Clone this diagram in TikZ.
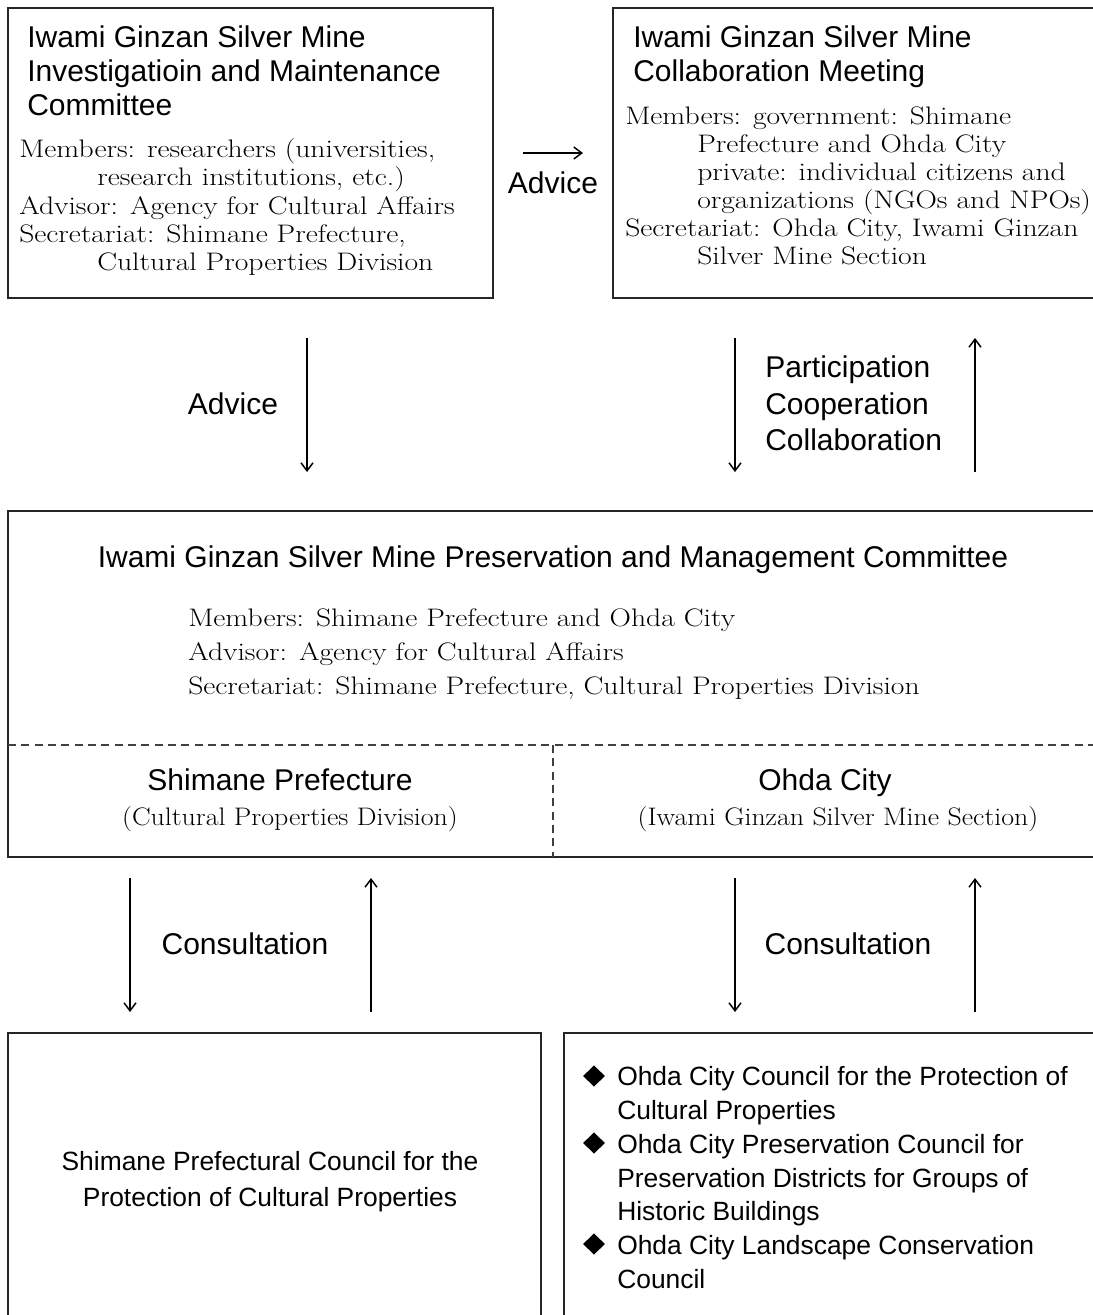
\documentclass[tikz,border=0pt]{standalone}
\usepackage{fontspec}
\usepackage{graphicx}
\newfontfamily\sansf{Liberation Sans}
\newcommand\sxw[1]{\scalebox{1.17}[1]{#1}}
\newcommand\sxn[1]{\scalebox{1.10}[1]{#1}}
\usetikzlibrary{arrows.meta,shapes.geometric}
\begin{document}
\begin{tikzpicture}[x=0.75pt,y=-0.75pt,
  box/.style={draw=black!85, line width=1.1pt, inner sep=0pt, outer sep=0pt, anchor=north west},
  dsh/.style={draw=black!75, line width=0.8pt, dash pattern=on 6pt off 4pt},
  ttl/.style={font=\sansf\fontsize{22.5}{27}\selectfont, inner sep=0pt, anchor=base west},
  ttlc/.style={ttl, anchor=base},
  sml/.style={font=\sansf\fontsize{19.8}{24}\selectfont, inner sep=0pt, anchor=base west},
  smlc/.style={sml, anchor=base},
  ser/.style={font=\fontsize{19}{23}\selectfont, inner sep=0pt, anchor=base west},
  serc/.style={ser, anchor=base},
  arr/.style={-{Straight Barb[length=6pt,width=9pt]}, line width=1.1pt},
  bul/.style={diamond, fill=black, minimum width=16.5pt, minimum height=16pt, inner sep=0pt}
]
\path[use as bounding box, clip] (0,0) rectangle (1093,1315);

% boxes
\node[box, minimum width=363.75pt, minimum height=217.5pt] (tl) at (8,8) {};
\node[box, minimum width=372.75pt, minimum height=217.5pt] (tr) at (613,8) {};
\node[box, minimum width=826.5pt, minimum height=259.5pt] (mid) at (8,511) {};
\node[box, minimum width=399.75pt, minimum height=222.75pt] (bl) at (8,1033) {};
\node[box, minimum width=409.5pt, minimum height=222.75pt] (br) at (564,1033) {};

% dashed dividers
\coordinate (dl) at (8,745);
\coordinate (dr) at (1093,745);
\coordinate (dt) at (553,745);
\coordinate (db) at (553,857);
\draw[dsh] (dl) -- (dr);
\draw[dsh] (dt) -- (db);

% top-left box text
\node[ttl] (t1a) at (27,47) {Iwami Ginzan Silver Mine};
\node[ttl] (t1b) at (27,81) {Investigatioin and Maintenance};
\node[ttl] (t1c) at (27,115) {Committee};
\node[ser] (s1a) at (19,157) {\sxw{Members: researchers (universities,}};
\node[ser] (s1b) at (97,185) {\sxw{research institutions, etc.)}};
\node[ser] (s1c) at (19,214) {\sxw{Advisor: Agency for Cultural Affairs}};
\node[ser] (s1d) at (19,242) {\sxw{Secretariat: Shimane Prefecture,}};
\node[ser] (s1e) at (97,270) {\sxw{Cultural Properties Division}};

% top-right box text
\node[ttl] (t2a) at (633,47) {Iwami Ginzan Silver Mine};
\node[ttl] (t2b) at (633,81) {Collaboration Meeting};
\node[ser] (s2a) at (625,124) {\sxw{Members: government: Shimane}};
\node[ser] (s2b) at (697,152) {\sxw{Prefecture and Ohda City}};
\node[ser] (s2c) at (697,180) {\sxw{private: individual citizens and}};
\node[ser] (s2d) at (697,208) {\sxw{organizations (NGOs and NPOs)}};
\node[ser] (s2e) at (625,236) {\sxw{Secretariat: Ohda City, Iwami Ginzan}};
\node[ser] (s2f) at (697,264) {\sxw{Silver Mine Section}};

% horizontal advice arrow
\coordinate (h1) at (523,153);
\coordinate (h2) at (583,153);
\draw[arr] (h1) -- (h2);
\node[ttlc] (adv1) at (553,193) {Advice};

% vertical arrows between top and middle
\coordinate (v1a) at (307,338);
\coordinate (v1b) at (307,472);
\draw[arr] (v1a) -- (v1b);
\node[ttlc] (adv2) at (233,414) {Advice};

\coordinate (v2a) at (735,338);
\coordinate (v2b) at (735,472);
\draw[arr] (v2a) -- (v2b);
\coordinate (v3a) at (975,472);
\coordinate (v3b) at (975,338);
\draw[arr] (v3a) -- (v3b);
\node[ttl] (p1) at (765,377) {Participation};
\node[ttl] (p2) at (765,414) {Cooperation};
\node[ttl] (p3) at (765,450) {Collaboration};

% middle box text
\node[ttlc] (m0) at (553,567) {Iwami Ginzan Silver Mine Preservation and Management Committee};
\node[ser] (m1) at (188,626) {\sxw{Members: Shimane Prefecture and Ohda City}};
\node[ser] (m2) at (188,660) {\sxw{Advisor: Agency for Cultural Affairs}};
\node[ser] (m3) at (188,694) {\sxw{Secretariat: Shimane Prefecture, Cultural Properties Division}};
\node[ttlc] (m4) at (280,790) {Shimane Prefecture};
\node[serc] (m5) at (290,825) {\sxn{(Cultural Properties Division)}};
\node[ttlc] (m6) at (825,790) {Ohda City};
\node[serc] (m7) at (838,825) {\sxn{(Iwami Ginzan Silver Mine Section)}};

% consultation arrows
\coordinate (c1a) at (130,878);
\coordinate (c1b) at (130,1012);
\draw[arr] (c1a) -- (c1b);
\coordinate (c2a) at (371,1012);
\coordinate (c2b) at (371,878);
\draw[arr] (c2a) -- (c2b);
\node[ttlc] (cons1) at (245,954) {Consultation};

\coordinate (c3a) at (735,878);
\coordinate (c3b) at (735,1012);
\draw[arr] (c3a) -- (c3b);
\coordinate (c4a) at (975,1012);
\coordinate (c4b) at (975,878);
\draw[arr] (c4a) -- (c4b);
\node[ttlc] (cons2) at (848,954) {Consultation};

% bottom-left text
\node[smlc] (b1a) at (270,1170) {Shimane Prefectural Council for the};
\node[smlc] (b1b) at (270,1206) {Protection of Cultural Properties};

% bottom-right bullets
\node[bul] (d1) at (594,1076) {};
\node[bul] (d2) at (594,1143) {};
\node[bul] (d3) at (594,1244) {};
\node[sml] (r1) at (617,1085) {Ohda City Council for the Protection of};
\node[sml] (r2) at (617,1119) {Cultural Properties};
\node[sml] (r3) at (617,1153) {Ohda City Preservation Council for};
\node[sml] (r4) at (617,1187) {Preservation Districts for Groups of};
\node[sml] (r5) at (617,1220) {Historic Buildings};
\node[sml] (r6) at (617,1254) {Ohda City Landscape Conservation};
\node[sml] (r7) at (617,1288) {Council};
\end{tikzpicture}
\end{document}
